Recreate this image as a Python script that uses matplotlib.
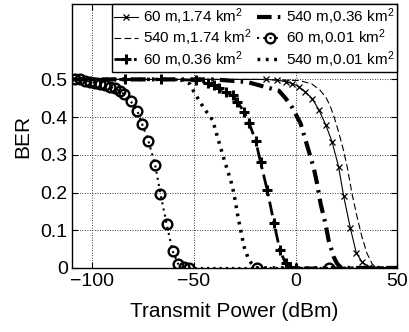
import numpy as np
import matplotlib
matplotlib.use("Agg")
import matplotlib.pyplot as plt

plt.rcParams['font.family'] = ['Liberation Sans', 'DejaVu Sans']
plt.rcParams['mathtext.fontset'] = 'custom'
plt.rcParams['mathtext.rm'] = 'Liberation Sans'
plt.rcParams['mathtext.it'] = 'Liberation Sans'

########## data ##########
labels = ["60 m,1.74 km$^2$", "540 m,1.74 km$^2$", "60 m,0.36 km$^2$",
          "540 m,0.36 km$^2$", "60 m,0.01 km$^2$", "540 m,0.01 km$^2$"]

# 60 m, 1.74 km^2
p_a = [-110, -60, -14.7, -9.0, -4.9, -1.6, 1.6, 4.9, 8.2, 11.6, 14.9, 18.0, 21.2, 23.7, 27.0, 29.9, 32.7, 36.0, 50]
ber_a = [0.5, 0.5, 0.5, 0.498, 0.494, 0.489, 0.481, 0.467, 0.449, 0.418, 0.379, 0.334, 0.268, 0.19, 0.105, 0.04, 0.016, 0.003, 0]

# 540 m, 1.74 km^2
p_b = [-110, -20, 2, 8, 12, 15, 17, 19, 21.5, 23.7, 25.5, 27.8, 30.3, 32.7, 35.2, 37.6, 39.5, 50]
ber_b = [0.5, 0.5, 0.497, 0.488, 0.472, 0.452, 0.43, 0.40, 0.355, 0.31, 0.266, 0.197, 0.135, 0.082, 0.038, 0.012, 0.0, 0]

# 60 m, 0.36 km^2
p_c = [-110, -84.1, -66, -49, -43.3, -40, -37.6, -34.3, -31, -28.6, -25.3, -22.9, -19.6, -17.2, -13.9, -10.6, -7.7, -4.9, -2.5, 0, 50]
ber_c = [0.5, 0.5, 0.5, 0.498, 0.49, 0.485, 0.476, 0.467, 0.458, 0.44, 0.414, 0.385, 0.337, 0.28, 0.206, 0.119, 0.047, 0.012, 0.003, 0, 0]

# 540 m, 0.36 km^2
p_d = [-110, -40, -23.7, -8.2, -4.9, -1.6, 2.5, 4.9, 7.4, 9.0, 10.6, 12.3, 14.7, 16.3, 18.8, 20.4, 22.5, 50]
ber_d = [0.5, 0.5, 0.493, 0.47, 0.45, 0.425, 0.383, 0.339, 0.294, 0.264, 0.224, 0.171, 0.118, 0.073, 0.029, 0.012, 0, 0]

# 60 m, 0.01 km^2
p_e = [-108.7, -106.2, -103.8, -101.3, -98.9, -96.4, -93.9, -91.5, -89.0, -86.6, -84.2, -81.2, -77.9, -75.6,
       -72.4, -69.1, -66.5, -63.4, -60.5, -57.7, -54.8, -52.5, -19.0, 16.3, 50]
ber_e = [0.5, 0.5, 0.497, 0.494, 0.491, 0.489, 0.485, 0.481, 0.476, 0.47, 0.46, 0.443, 0.417, 0.383,
         0.337, 0.274, 0.197, 0.116, 0.045, 0.010, 0.002, 0.0, 0.0, 0.0, 0]

# 540 m, 0.01 km^2
p_f = [-110, -60, -56, -52, -49.8, -45, -40.8, -38.4, -36, -33.5, -31.9, -30.3, -28.6, -27, -25.3, -22.9, -20.4, -18.5, 50]
ber_f = [0.5, 0.5, 0.498, 0.488, 0.465, 0.423, 0.392, 0.347, 0.303, 0.259, 0.233, 0.197, 0.144, 0.1, 0.056, 0.02, 0.004, 0, 0]

############ plot ############
fig = plt.figure(figsize=(4.09, 3.32), dpi=100)
ax = fig.add_axes([0.176, 0.193, 0.795, 0.795])

ax.plot(p_a, ber_a, color='k', lw=0.8, marker='x', ms=5, mew=0.9,
        markevery=list(range(2, len(p_a) - 1)), label=labels[0])
ax.plot(p_b, ber_b, color='k', lw=0.8, ls=(0, (6, 3)), label=labels[1])
ax.plot(p_c, ber_c, color='k', lw=2.0, ls=(0, (5, 2, 1, 2)), marker='+', ms=7, mew=2.2,
        markevery=list(range(1, len(p_c) - 1)), label=labels[2])
ax.plot(p_d, ber_d, color='k', lw=3.0, ls=(0, (3.5, 1.5, 0.6, 1.5)), label=labels[3])
ax.plot(p_e, ber_e, color='k', lw=1.5, ls=(0, (1, 2)), marker='o', ms=7, mew=1.7, mfc='none',
        markevery=list(range(0, len(p_e) - 1)), label=labels[4])
ax.plot(p_f, ber_f, color='k', lw=2.5, ls=(0, (0.8, 1.6)), label=labels[5])

ax.set_xlim(-110, 50)
ax.set_ylim(0, 0.7)
ax.set_xticks([-100, -50, 0, 50])
ax.set_yticks([0, 0.1, 0.2, 0.3, 0.4, 0.5])
ax.set_yticklabels(['0', '0.1', '0.2', '0.3', '0.4', '0.5'])
ax.tick_params(direction='in', labelsize=14, length=4, width=0.8, top=True, right=True, pad=3)
ax.tick_params(axis='x', pad=4)
ax.grid(True, color='k', ls=(0, (1, 2)), lw=0.6)
for s in ax.spines.values():
    s.set_linewidth(1.0)

ax.set_xlabel('Transmit Power (dBm)', fontsize=15, labelpad=8)
ax.set_ylabel('BER', fontsize=15, labelpad=6)

leg = ax.legend(loc='upper right', ncol=2, fontsize=11, fancybox=False, framealpha=1,
                edgecolor='k', handlelength=1.6, handletextpad=0.3, columnspacing=0.4,
                labelspacing=0.05, borderpad=0.15, borderaxespad=0.0)
leg.get_frame().set_linewidth(1.0)

fig.savefig('out.png', dpi=100)
